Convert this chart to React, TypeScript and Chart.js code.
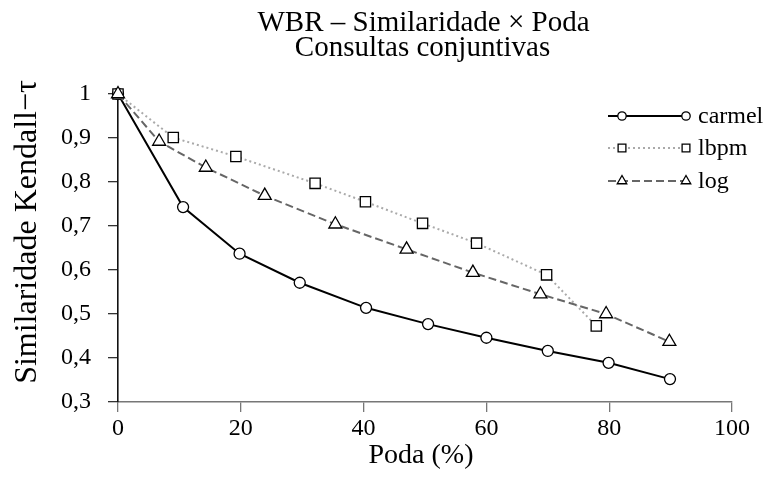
import React, { useEffect, useRef } from 'react';
import { Chart, registerables } from 'chart.js';

Chart.register(...registerables);

const TITLE_LINES = ['WBR – Similaridade × Poda', 'Consultas conjuntivas'];
const X_TITLE = 'Poda (%)';
const Y_TITLE = 'Similaridade Kendall−τ';
const SERIES_NAMES = ['carmel', 'lbpm', 'log'];

const carmelX = [0, 10.6, 19.8, 29.6, 40.4, 50.5, 60.0, 70.0, 79.9, 89.9];
const carmelY = [1.0, 0.743, 0.637, 0.571, 0.514, 0.477, 0.446, 0.416, 0.389, 0.352];

const lbpmX = [0, 9.0, 19.2, 32.1, 40.3, 49.6, 58.4, 69.8, 77.9];
const lbpmY = [1.0, 0.901, 0.858, 0.797, 0.755, 0.706, 0.661, 0.589, 0.473];

const logX = [0, 6.7, 14.3, 23.9, 35.4, 47.0, 57.8, 68.8, 79.5, 89.8];
const logY = [1.0, 0.892, 0.833, 0.769, 0.704, 0.647, 0.594, 0.545, 0.5, 0.437];

const X_TICKS = [0, 20, 40, 60, 80, 100];
const Y_TICKS = [0.3, 0.4, 0.5, 0.6, 0.7, 0.8, 0.9, 1];

const FONT = "'Liberation Serif', 'DejaVu Serif', serif";

function pts(xs: number[], ys: number[]) {
  return xs.map((x, i) => ({ x, y: ys[i] }));
}

function drawMarker(ctx: CanvasRenderingContext2D, style: string, x: number, y: number, r: number) {
  ctx.beginPath();
  if (style === 'circle') {
    ctx.arc(x, y, r, 0, Math.PI * 2);
  } else if (style === 'rect') {
    const s = Math.SQRT1_2 * r;
    ctx.rect(x - s, y - s, 2 * s, 2 * s);
  } else {
    const a = (2 * Math.PI) / 3;
    ctx.moveTo(x, y - r);
    ctx.lineTo(x + Math.sin(a) * r, y - Math.cos(a) * r);
    ctx.lineTo(x + Math.sin(2 * a) * r, y - Math.cos(2 * a) * r);
    ctx.closePath();
  }
  ctx.fillStyle = '#ffffff';
  ctx.fill();
  ctx.setLineDash([]);
  ctx.lineWidth = 1.3;
  ctx.strokeStyle = '#000000';
  ctx.stroke();
}

const decorPlugin = {
  id: 'decor',
  afterDraw(chart: any) {
    const ctx: CanvasRenderingContext2D = chart.ctx;
    ctx.save();
    ctx.fillStyle = '#000';
    // title
    ctx.font = `29px ${FONT}`;
    ctx.textAlign = 'center';
    ctx.textBaseline = 'alphabetic';
    ctx.fillText(TITLE_LINES[0], chart.width / 2 + 37, 31);
    ctx.fillText(TITLE_LINES[1], chart.width / 2 + 36, 56);
    // x title
    ctx.font = `28px ${FONT}`;
    ctx.textBaseline = 'middle';
    ctx.fillText(X_TITLE, 421, 456);
    // y title
    ctx.save();
    ctx.font = `32px ${FONT}`;
    ctx.translate(28, 232);
    ctx.rotate(-Math.PI / 2);
    ctx.fillText(Y_TITLE, 0, 0);
    ctx.restore();
    // legend
    const rows = [116, 148, 181];
    chart.data.datasets.forEach((ds: any, i: number) => {
      const y = rows[i];
      ctx.beginPath();
      ctx.setLineDash(ds.borderDash || []);
      ctx.lineWidth = ds.borderWidth;
      ctx.strokeStyle = ds.borderColor;
      ctx.moveTo(608, y);
      ctx.lineTo(686, y);
      ctx.stroke();
      const r = ds.pointStyle === 'triangle' ? 5.5 : ds.pointStyle === 'rect' ? 5.5 : 4.2;
      drawMarker(ctx, ds.pointStyle, 622, y, r);
      drawMarker(ctx, ds.pointStyle, 686, y, r);
      ctx.fillStyle = '#000';
      ctx.font = `24px ${FONT}`;
      ctx.textAlign = 'left';
      ctx.textBaseline = 'middle';
      ctx.fillText(SERIES_NAMES[i], 698, y + 1);
    });
    ctx.restore();
  },
};

export default function App() {
  const ref = useRef<HTMLCanvasElement | null>(null);

  useEffect(() => {
    if (!ref.current) return;
    const chart = new Chart(ref.current, {
      type: 'line',
      data: {
        datasets: [
          {
            label: SERIES_NAMES[0],
            data: pts(carmelX, carmelY),
            borderColor: '#000000',
            borderWidth: 2,
            pointStyle: 'circle',
            pointRadius: 5.5,
            pointBorderColor: '#000000',
            pointBackgroundColor: '#ffffff',
            pointBorderWidth: 1.3,
            clip: false,
            order: 2,
          },
          {
            label: SERIES_NAMES[1],
            data: pts(lbpmX, lbpmY),
            borderColor: '#aaaaaa',
            borderWidth: 2,
            borderDash: [2, 3],
            pointStyle: 'rect',
            pointRadius: 7.3,
            pointBorderColor: '#000000',
            pointBackgroundColor: '#ffffff',
            pointBorderWidth: 1.3,
            clip: false,
            order: 1,
          },
          {
            label: SERIES_NAMES[2],
            data: pts(logX, logY),
            borderColor: '#666666',
            borderWidth: 2,
            borderDash: [8, 4],
            pointStyle: 'triangle',
            pointRadius: 7.5,
            pointBorderColor: '#000000',
            pointBackgroundColor: '#ffffff',
            pointBorderWidth: 1.3,
            clip: false,
            order: 0,
          },
        ] as any,
      },
      options: {
        animation: false,
        responsive: false,
        events: [],
        layout: { padding: { left: 0, top: 94, right: 41, bottom: 0 } },
        plugins: {
          legend: { display: false },
          title: { display: false },
          tooltip: { enabled: false },
        },
        elements: { line: { tension: 0 } },
        scales: {
          x: {
            type: 'linear',
            min: 0,
            max: 100,
            afterFit: (s: any) => {
              s.height = 88;
            },
            afterBuildTicks: (s: any) => {
              s.ticks = X_TICKS.map((v) => ({ value: v }));
            },
            ticks: {
              color: '#000',
              font: { family: FONT, size: 24 },
              padding: 2,
              maxRotation: 0,
            },
            grid: { drawOnChartArea: false, drawTicks: true, tickLength: 10, color: '#777777', lineWidth: 1.3 },
            border: { display: true, color: '#777777', width: 1.6 },
          },
          y: {
            type: 'linear',
            min: 0.3,
            max: 1,
            afterFit: (s: any) => {
              s.width = 118;
            },
            afterBuildTicks: (s: any) => {
              s.ticks = Y_TICKS.map((v) => ({ value: v }));
            },
            ticks: {
              color: '#000',
              font: { family: FONT, size: 24 },
              padding: 17,
              callback: (v: any) => (Number(v) === 1 ? '1' : Number(v).toFixed(1).replace('.', ',')),
            },
            grid: { drawOnChartArea: false, drawTicks: true, tickLength: 10, color: '#333333', lineWidth: 1.3 },
            border: { display: true, color: '#111111', width: 1.6 },
          },
        },
      } as any,
      plugins: [decorPlugin],
    });
    return () => chart.destroy();
  }, []);

  return (
    <div style={{ position: 'absolute', left: 0, top: 0, width: 773, height: 490, background: '#fff' }}>
      <canvas ref={ref} width={773} height={490} style={{ width: 773, height: 490, display: 'block' }} />
    </div>
  );
}
